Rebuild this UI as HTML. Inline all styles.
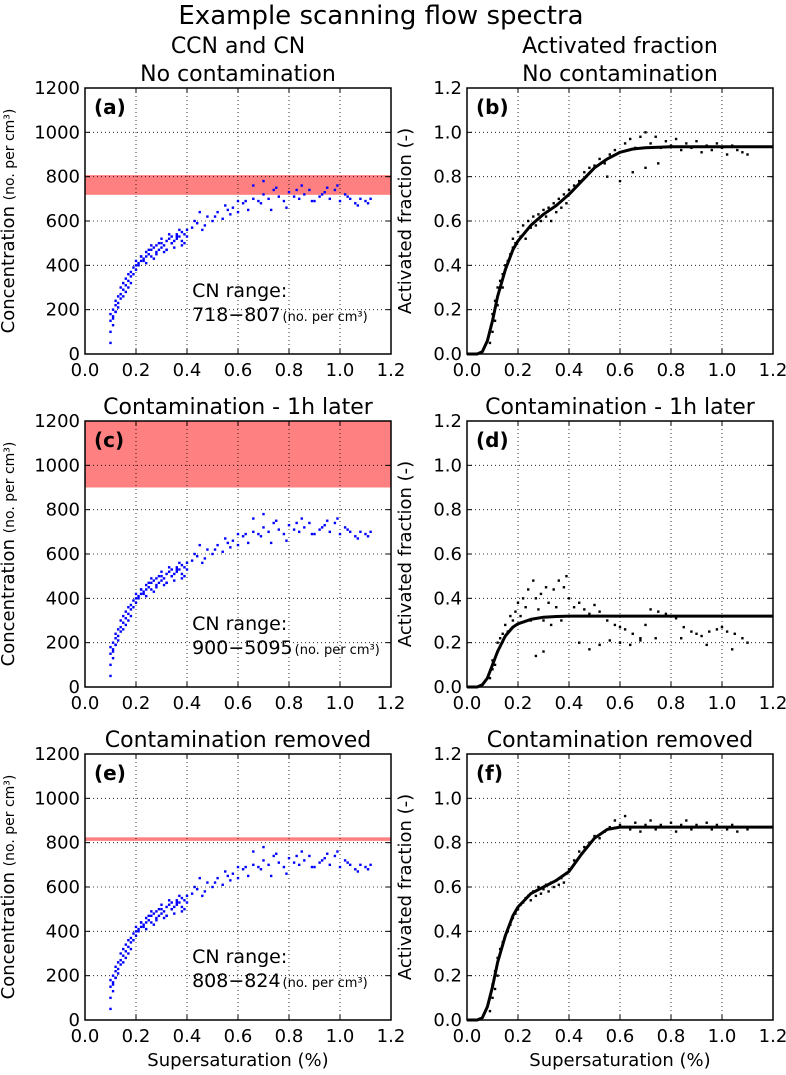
<!DOCTYPE html>
<html><head><meta charset="utf-8"><style>
html,body{margin:0;padding:0;background:#fff;}
svg{display:block;font-family:"DejaVu Sans","Liberation Sans",sans-serif;}
</style></head><body>
<svg id="fig" width="786" height="1075" viewBox="0 0 786 1075">
<text x="381" y="24" font-size="26" text-anchor="middle">Example scanning flow spectra</text>
</svg>
<script>
const X_TICKS=[0,0.2,0.4,0.6,0.8,1.0,1.2];
const X_TICK_LABELS=["0.0","0.2","0.4","0.6","0.8","1.0","1.2"];
const CONC_TICKS=[0,200,400,600,800,1000,1200];
const AF_TICKS=[0,0.2,0.4,0.6,0.8,1.0,1.2];
const AF_TICK_LABELS=["0.0","0.2","0.4","0.6","0.8","1.0","1.2"];
const CCN_X=[0.10,0.10,0.10,0.10,0.11,0.11,0.11,0.12,0.12,0.12,0.13,0.13,0.14,0.14,0.15,0.15,0.16,0.16,0.17,0.17,0.18,0.18,0.19,0.20,0.20,0.21,0.22,0.22,0.23,0.24,0.24,0.25,0.26,0.26,0.27,0.28,0.28,0.29,0.30,0.30,0.31,0.32,0.32,0.33,0.34,0.34,0.35,0.36,0.36,0.37,0.38,0.38,0.39,0.40,0.40,0.42,0.44,0.46,0.48,0.50,0.52,0.54,0.56,0.58,0.60,0.62,0.64,0.66,0.68,0.70,0.72,0.74,0.76,0.78,0.80,0.82,0.84,0.86,0.88,0.90,0.92,0.94,0.96,0.98,1.00,1.02,1.04,1.06,1.08,1.10,1.11,1.12,0.66,0.70,0.75,0.85,0.95,0.60,0.55,0.45,0.11,0.13,0.15,0.17,0.19,0.21,0.23,0.25,0.27,0.29,0.31,0.33,0.35,0.37,0.39,0.12,0.14,0.16,0.18,0.20,0.22,0.24,0.26,0.28,0.30,0.32,0.34,0.36,0.38,0.43,0.47,0.51,0.57,0.63,0.69,0.73,0.79,0.83,0.89,0.93,0.99,1.03,1.07];
const CCN_Y=[50,100,150,180,130,200,170,220,190,240,230,260,270,300,290,320,310,340,330,360,370,350,390,400,420,410,440,420,430,460,440,450,470,440,480,460,490,470,500,480,490,510,470,520,500,530,510,540,520,530,550,510,540,530,560,570,590,560,620,600,640,610,650,660,640,680,650,700,690,720,700,740,710,690,730,710,700,720,740,690,710,730,700,740,690,720,700,680,700,690,680,700,760,780,750,760,750,690,670,640,160,210,260,300,360,400,420,470,430,500,460,540,480,560,500,190,250,280,320,380,440,410,490,450,520,470,500,530,490,600,580,620,630,690,680,650,660,740,690,720,760,710,670];
const AFB_X=[0.09,0.10,0.10,0.11,0.11,0.12,0.12,0.13,0.14,0.14,0.15,0.16,0.17,0.18,0.18,0.19,0.20,0.21,0.22,0.23,0.24,0.25,0.26,0.27,0.28,0.29,0.30,0.31,0.32,0.33,0.34,0.35,0.36,0.37,0.38,0.39,0.40,0.42,0.44,0.46,0.48,0.50,0.52,0.54,0.56,0.58,0.60,0.62,0.64,0.66,0.68,0.70,0.72,0.74,0.76,0.78,0.80,0.82,0.84,0.86,0.88,0.90,0.92,0.94,0.96,0.98,1.00,1.02,1.04,1.06,1.08,1.10,0.55,0.60,0.65,0.70,0.75];
const AFB_Y=[0.05,0.10,0.18,0.15,0.24,0.22,0.30,0.33,0.36,0.30,0.40,0.42,0.45,0.48,0.52,0.50,0.55,0.53,0.58,0.52,0.60,0.57,0.62,0.58,0.63,0.60,0.65,0.62,0.66,0.60,0.68,0.64,0.70,0.66,0.72,0.68,0.74,0.76,0.78,0.82,0.84,0.85,0.88,0.86,0.90,0.92,0.91,0.95,0.97,0.93,0.98,1.00,0.95,0.98,0.93,0.96,0.94,0.97,0.92,0.95,0.93,0.96,0.91,0.94,0.92,0.95,0.93,0.90,0.94,0.92,0.91,0.90,0.80,0.78,0.82,0.84,0.86];
const AFD_X=[0.09,0.10,0.10,0.11,0.12,0.12,0.13,0.14,0.15,0.16,0.17,0.18,0.19,0.20,0.21,0.22,0.23,0.24,0.25,0.26,0.27,0.28,0.29,0.30,0.31,0.32,0.33,0.34,0.35,0.36,0.37,0.38,0.39,0.40,0.42,0.44,0.46,0.48,0.50,0.52,0.55,0.58,0.60,0.62,0.65,0.68,0.70,0.72,0.75,0.78,0.80,0.82,0.85,0.88,0.90,0.92,0.95,0.98,1.00,1.02,1.05,1.08,1.10,0.44,0.48,0.52,0.56,0.60,0.64,0.68,0.74,0.84,0.94,1.04,0.27,0.30];
const AFD_Y=[0.04,0.08,0.12,0.10,0.16,0.20,0.22,0.24,0.28,0.25,0.32,0.30,0.34,0.38,0.32,0.40,0.36,0.44,0.30,0.48,0.40,0.35,0.42,0.30,0.45,0.38,0.28,0.44,0.36,0.48,0.30,0.45,0.50,0.40,0.36,0.38,0.35,0.33,0.37,0.34,0.30,0.28,0.27,0.26,0.24,0.22,0.28,0.35,0.34,0.33,0.32,0.31,0.27,0.25,0.24,0.23,0.25,0.26,0.27,0.25,0.24,0.22,0.20,0.20,0.17,0.19,0.21,0.20,0.19,0.21,0.22,0.22,0.19,0.17,0.14,0.16];
const AFF_X=[0.09,0.10,0.10,0.11,0.11,0.12,0.12,0.13,0.14,0.15,0.16,0.17,0.18,0.19,0.20,0.21,0.22,0.23,0.24,0.25,0.26,0.27,0.28,0.29,0.30,0.31,0.32,0.33,0.34,0.35,0.36,0.37,0.38,0.39,0.40,0.42,0.44,0.46,0.48,0.50,0.52,0.54,0.56,0.58,0.60,0.62,0.64,0.66,0.68,0.70,0.72,0.74,0.76,0.78,0.80,0.82,0.84,0.86,0.88,0.90,0.92,0.94,0.96,0.98,1.00,1.02,1.04,1.06,1.08,1.10];
const AFF_Y=[0.04,0.10,0.16,0.14,0.22,0.20,0.28,0.32,0.35,0.38,0.40,0.43,0.46,0.48,0.50,0.52,0.53,0.55,0.56,0.54,0.58,0.56,0.60,0.57,0.59,0.61,0.58,0.62,0.60,0.63,0.61,0.64,0.62,0.66,0.68,0.72,0.76,0.78,0.80,0.83,0.82,0.85,0.87,0.90,0.88,0.92,0.86,0.89,0.85,0.88,0.90,0.86,0.88,0.87,0.89,0.85,0.88,0.90,0.86,0.88,0.87,0.89,0.86,0.88,0.87,0.86,0.88,0.85,0.87,0.86];
const FIT_X=[0,0.04,0.06,0.08,0.10,0.12,0.15,0.18,0.20,0.25,0.30,0.35,0.40,0.45,0.50,0.55,0.60,0.65,0.70,0.80,1.2];
const FIT_B=[0,0,0.01,0.06,0.15,0.26,0.38,0.47,0.51,0.58,0.63,0.67,0.72,0.78,0.84,0.88,0.91,0.925,0.93,0.935,0.935];
const FIT_D=[0,0,0.01,0.04,0.10,0.16,0.23,0.27,0.285,0.305,0.315,0.318,0.32,0.32,0.32,0.32,0.32,0.32,0.32,0.32,0.32];
const FIT_F=[0,0,0.01,0.06,0.15,0.26,0.38,0.47,0.51,0.57,0.60,0.63,0.67,0.75,0.82,0.86,0.87,0.87,0.87,0.87,0.87];
const BAND_A=[718,807], BAND_C=[900,5095], BAND_E=[808,824];

const NS="http://www.w3.org/2000/svg";
const fig=document.getElementById('fig');
function mk(tag,attrs,parent){const e=document.createElementNS(NS,tag);for(const k in attrs)e.setAttribute(k,attrs[k]);(parent||fig).appendChild(e);return e;}

function panel(opt){
  const L=opt.L,R=opt.L+306,T=opt.T,B=opt.T+266;
  const g=mk('g',{});
  
  
  const ymax=opt.ymax;
  const sx=v=>L+(v/1.2)*(R-L);
  const sy=v=>B-(v/ymax)*(B-T);
  const clip=mk('clipPath',{id:'c'+opt.name},g);
  mk('rect',{x:L,y:T,width:R-L,height:B-T},clip);
  if(opt.band){
    const r=mk('rect',{x:L,y:sy(Math.min(opt.band[1],ymax)),width:R-L,height:sy(opt.band[0])-sy(Math.min(opt.band[1],ymax)),fill:'#ff8080'},g);
    
    
  }
  X_TICKS.forEach(v=>{const l=mk('line',{x1:sx(v),x2:sx(v),y1:T,y2:B,stroke:'#000','stroke-width':0.8,'stroke-dasharray':'1,3'},g);});
  opt.yticks.forEach(v=>{const l=mk('line',{x1:L,x2:R,y1:sy(v),y2:sy(v),stroke:'#000','stroke-width':0.8,'stroke-dasharray':'1,3'},g);});
  const pg=mk('g',{'clip-path':'url(#c'+opt.name+')'},g);
  
  
  opt.px.forEach((x,i)=>{
    const c=mk('rect',{x:sx(x)-1.2,y:sy(opt.py[i])-1.2,width:2.4,height:2.4,fill:opt.color},pg);
    
    
  });
  if(opt.fit){
    const d=FIT_X.map((x,i)=>(i?'L':'M')+sx(x).toFixed(1)+','+sy(opt.fit[i]).toFixed(1)).join('');
    const p=mk('path',{d:d,fill:'none',stroke:'#000','stroke-width':3,'stroke-linejoin':'round'},g);
    
    
  }
  mk('rect',{x:L,y:T,width:R-L,height:B-T,fill:'none',stroke:'#000','stroke-width':1.5},g);
  X_TICKS.forEach((v,i)=>{
    mk('line',{x1:sx(v),x2:sx(v),y1:B,y2:B-5,stroke:'#000'},g);
    mk('line',{x1:sx(v),x2:sx(v),y1:T,y2:T+5,stroke:'#000'},g);
    const t=mk('text',{x:sx(v),y:B+22,'font-size':18,'text-anchor':'middle'},g);
    t.textContent=X_TICK_LABELS[i];
    
    
  });
  opt.yticks.forEach((v,i)=>{
    mk('line',{x1:L,x2:L+5,y1:sy(v),y2:sy(v),stroke:'#000'},g);
    mk('line',{x1:R,x2:R-5,y1:sy(v),y2:sy(v),stroke:'#000'},g);
    const t=mk('text',{x:L-5,y:sy(v)+6,'font-size':18,'text-anchor':'end'},g);
    t.textContent=opt.ylabels[i];
    
    
  });
  const lab=mk('text',{x:L+9,y:T+26,'font-size':20,'font-weight':'bold'},g);
  lab.textContent=opt.letter;
  
  
  opt.titles.forEach((s,i)=>{
    const t=mk('text',{x:(L+R)/2,y:T-7-(opt.titles.length-1-i)*28,'font-size':22,'text-anchor':'middle'},g);
    t.textContent=s;
    
    
  });
  const yy=(T+B)/2;
  const yt=mk('text',{x:0,y:0,'font-size':18,'text-anchor':'middle',transform:`translate(${opt.L-(opt.af?56:71)},${yy}) rotate(-90)`},g);
  
  
  if(opt.af){yt.textContent='Activated fraction (-)';}
  else{const a=mk('tspan',{},yt);a.textContent='Concentration ';const b=mk('tspan',{'font-size':14},yt);b.textContent='(no. per cm³)';}
  if(opt.cn){
    const t1=mk('text',{x:sx(0.42),y:sy(257),'font-size':19},g);
    t1.textContent='CN range:';
    
    
    const t2=mk('text',{x:sx(0.42),y:sy(150),'font-size':19},g);
    
    
    const a=mk('tspan',{},t2);a.textContent=opt.cn[0]+'−'+opt.cn[1];
    const b=mk('tspan',{'font-size':13,dx:2},t2);b.textContent='(no. per cm³)';
  }
  if(opt.xtitle){
    const t=mk('text',{x:(L+R)/2,y:1066,'font-size':18,'text-anchor':'middle'},g);
    t.textContent='Supersaturation (%)';
    
    
  }
}
const rows=[88,421,754];
const blue='#0000ff';
panel({name:'panel-a',L:85,T:rows[0],ymax:1200,yticks:CONC_TICKS,ylabels:CONC_TICKS.map(String),px:CCN_X,py:CCN_Y,color:blue,band:BAND_A,letter:'(a)',titles:['CCN and CN','No contamination'],cn:BAND_A});
panel({name:'panel-b',L:467,T:rows[0],ymax:1.2,af:true,yticks:AF_TICKS,ylabels:AF_TICK_LABELS,px:AFB_X,py:AFB_Y,color:'#000',fit:FIT_B,letter:'(b)',titles:['Activated fraction','No contamination']});
panel({name:'panel-c',L:85,T:rows[1],ymax:1200,yticks:CONC_TICKS,ylabels:CONC_TICKS.map(String),px:CCN_X,py:CCN_Y,color:blue,band:BAND_C,letter:'(c)',titles:['Contamination - 1h later'],cn:BAND_C});
panel({name:'panel-d',L:467,T:rows[1],ymax:1.2,af:true,yticks:AF_TICKS,ylabels:AF_TICK_LABELS,px:AFD_X,py:AFD_Y,color:'#000',fit:FIT_D,letter:'(d)',titles:['Contamination - 1h later']});
panel({name:'panel-e',L:85,T:rows[2],ymax:1200,yticks:CONC_TICKS,ylabels:CONC_TICKS.map(String),px:CCN_X,py:CCN_Y,color:blue,band:BAND_E,letter:'(e)',titles:['Contamination removed'],cn:BAND_E,xtitle:true});
panel({name:'panel-f',L:467,T:rows[2],ymax:1.2,af:true,yticks:AF_TICKS,ylabels:AF_TICK_LABELS,px:AFF_X,py:AFF_Y,color:'#000',fit:FIT_F,letter:'(f)',titles:['Contamination removed'],xtitle:true});
</script>
</body></html>
